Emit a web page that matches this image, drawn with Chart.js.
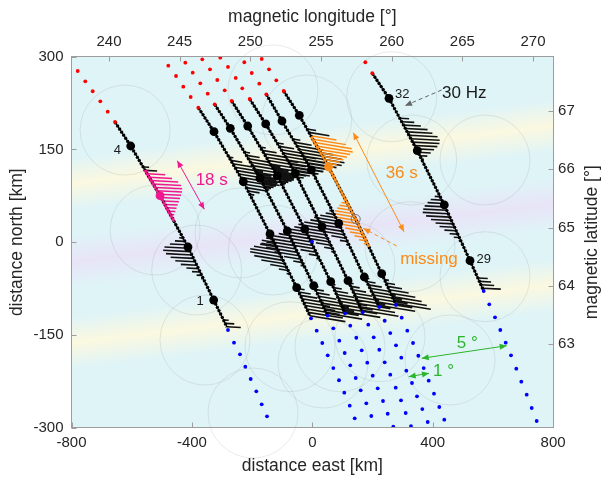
<!DOCTYPE html>
<html><head><meta charset="utf-8">
<script src="https://cdn.jsdelivr.net/npm/chart.js@4.4.0/dist/chart.umd.min.js"></script>
<style>html,body{margin:0;padding:0;background:#fff;}#wrap{width:602px;height:478px;}</style>
</head><body><div id="wrap"><canvas id="c" width="602" height="478"></canvas></div>
<script>
const FONT = "'Liberation Sans', Arial, sans-serif";
const PINK = '#f0188e', ORANGE = '#fb8c19', GREEN = '#2cb52c';

// axis ticks
const xTicks = [-800,-400,0,400,800];
const yTicks = [-300,-150,0,150,300];
const lonTicks = [240,245,250,255,260,265,270];
const latTicks = [63,64,65,66,67];
const lonRange = [237.35,271.42];
const latRange = [61.566,67.93];

// satellite tracks (km east, km north): start, 4 marker dots, end
const trackA = [[-655.5,194.4],[-603.3,155.6],[-506.0,75.2],[-413.0,-7.8],[-327.6,-93.5],[-283.4,-137.1]];
const trackB = [[-378.7,217.5],[-326.6,178.7],[-229.2,97.8],[-140.5,13.3],[-51.8,-73.6],[-7.6,-119.4]];
const trackC = [[-324.3,223.0],[-272.4,184.2],[-173.8,103.3],[-83.1,18.1],[4.7,-70.4],[51.2,-118.9]];
const trackD = [[-267.8,228.4],[-214.6,187.9],[-116.3,107.1],[-25.2,21.3],[61.1,-63.9],[108.6,-115.0]];
const trackE = [[-208.0,231.6],[-154.8,191.2],[-56.5,111.4],[32.2,25.1],[118.6,-62.3],[167.4,-113.4]];
const trackF = [[-152.8,239.2],[-100.7,196.0],[-3.3,116.8],[87.7,30.6],[172.8,-56.3],[222.6,-104.8]];
const trackG = [[-95.0,244.5],[-43.2,205.2],[53.8,121.6],[144.2,37.5],[230.6,-50.9],[278.1,-101.6]];
const trackR = [[199.3,273.2],[254.8,232.7],[348.8,148.0],[438.5,60.2],[523.9,-29.9],[569.4,-78.9]];

// red (no data, north) sample positions
const redA = [[-779.4,276.9],[-754.2,260.2],[-729.6,244.1],[-704.3,227.9],[-679.7,211.1],[-655.5,194.4]];
const redB = [[-478.4,285.5],[-452.8,268.8],[-428.6,251.5],[-404.0,234.8],[-378.7,217.5]];
const redC = [[-421.9,290.3],[-397.3,274.1],[-372.1,257.0],[-347.5,240.2],[-324.3,223.0]];
const redD = [[-365.5,295.8],[-339.9,279.6],[-315.6,262.3],[-291.0,245.7],[-267.8,228.4]];
const redE = [[-305.7,298.5],[-280.1,283.4],[-254.5,265.6],[-232.6,248.9],[-208.0,231.6]];
const redF = [[-225.9,291.0],[-201.3,273.6],[-176.1,256.3],[-152.8,239.2]];
const redG = [[-168.1,296.3],[-143.9,279.6],[-119.6,261.8],[-95.0,244.5]];
const redR = [[176.1,291.0],[199.3,273.2]];

// blue (no data, south) sample positions
const blueA = [[-280.1,-142.0],[-260.1,-162.5],[-240.2,-181.3],[-222.6,-201.4],[-204.7,-221.2],[-186.0,-241.1],[-168.1,-262.2],[-150.5,-281.6]];
const blueB = [[-4.3,-123.1],[14.6,-143.1],[33.2,-163.0],[51.2,-182.9],[69.8,-203.5],[88.7,-223.3],[106.3,-243.4],[124.3,-264.4],[140.9,-284.8]];
const blueC = [[51.2,-118.9],[69.8,-139.3],[89.7,-159.3],[107.6,-179.2],[126.2,-199.1],[144.2,-219.6],[160.8,-239.5],[179.4,-260.5],[196.0,-281.1]];
const blueD = [[108.6,-115.0],[126.2,-135.0],[146.2,-154.5],[164.1,-174.8],[182.7,-194.9],[200.7,-215.9],[217.3,-236.3],[234.9,-256.8],[250.5,-277.4],[269.1,-298.4]];
const blueE = [[167.4,-113.4],[186.0,-133.4],[204.0,-153.8],[222.6,-173.9],[240.5,-194.2],[259.1,-214.3],[277.1,-235.3],[294.7,-255.7],[310.3,-276.2],[327.9,-297.3]];
const blueF = [[222.6,-104.8],[240.5,-127.0],[259.1,-146.9],[278.1,-166.7],[295.7,-186.8],[312.3,-207.8],[331.2,-227.7],[347.8,-249.2],[365.5,-269.8],[383.4,-290.8]];
const blueG = [[278.1,-101.6],[297.0,-122.1],[315.6,-143.1],[334.6,-163.0],[352.2,-183.6],[370.1,-203.5],[386.7,-224.0],[404.3,-245.0],[421.9,-266.5],[438.5,-287.1]];
const blueR = [[569.4,-78.9],[588.0,-100.4],[607.0,-121.5],[624.6,-142.0],[642.5,-162.5],[660.1,-182.9],[677.7,-204.6],[694.4,-225.6],[712.3,-246.6],[728.9,-268.1],[745.5,-289.2]];
const blueO = [[-1.0,1.0]];

// field-of-view circles (centres, km)
const circles = [[-621.9,181.3],[-522.1,19.7],[-384.1,-45.0],[-356.5,-158.2],[-197.0,-276.3],[-240.2,14.9],[-74.1,-169.0],[92.0,-169.0],[-130.6,246.2],[-18.6,197.6],[263.8,235.3],[330.2,132.9],[573.8,132.9],[324.6,-7.3],[573.8,-55.8],[457.5,-190.5],[224.9,-152.8],[35.5,-195.4],[125.3,-39.6],[-129.6,-12.6]];

// wave amplitudes (km) along each track
const ampA1k = [20,40];
const ampA1p = [60,76,90,93,90,83,73,63,53,43,33,23,13,7];
const ampA2 = [-13,-33,-56,-80,-90,-86,-76,-66,-53,-40,-27,-17,-7];
const ampA3 = [17,30,46];
const ampB1 = [15,38,65,94,115,125,122,110,88,62,38,15];
const ampB2 = [-9,-28,-54,-80,-98,-104,-96,-78,-54,-31,-11];
const ampB3 = [12,25,40,56,72,88,100,110,115,118];
const ampC1 = [19,44,72,100,120,130,125,110,85,58,32,12];
const ampC2 = [-10,-31,-60,-88,-108,-115,-105,-82,-56,-31,-12];
const ampC3 = [15,28,42,59,75,90,102,112,118];
const ampD1 = [19,48,78,105,125,132,125,106,80,52,28,10];
const ampD2 = [-10,-30,-56,-82,-102,-110,-100,-79,-52,-30,-11];
const ampD3 = [12,28,44,60,78,92,105,115,120];
const ampE1 = [22,50,81,110,130,135,125,102,75,48,22,8];
const ampE2 = [-10,-30,-56,-81,-100,-106,-98,-75,-50,-28,-10];
const ampE3 = [15,30,46,62,79,94,106,116,122];
const ampF1 = [25,56,88,115,135,138,122,98,69,41,19,6];
const ampF2 = [-10,-28,-52,-78,-95,-102,-94,-72,-48,-25,-10];
const ampF3 = [15,30,45,62,80,95,108,118,122];
const ampG1k = [30,68];
const ampG1o = [85,110,123,120,105,88,70,52,35,18,6];
const ampG2o = [-7,-20,-33,-46,-60,-70,-76,-73,-63,-53,-43,-33,-23,-13,-3];
const ampG3 = [15,30,48,65,82,98,110,118];
const ampR1 = [31,42,58,74,84,95,96,89,76,59,42,25,8];
const ampR2 = [-18,-37,-53,-68,-78,-85,-79,-68,-58,-50,-39,-27,-18,-7];
const ampR3 = [33,39,44,61];

// [track, first sample north (km), colour, amplitudes]
const wiggles = [
 ['A',121.6,'k',ampA1k],['A',110.6,'p',ampA1p],['A',6.8,'k',ampA2],['A',-125.8,'k',ampA3],
 ['B',137.8,'k',ampB1],['B',3.6,'k',ampB2],['B',-69.5,'k',ampB3],
 ['C',145.9,'k',ampC1],['C',16.5,'k',ampC2],['C',-71.0,'k',ampC3],
 ['D',154.0,'k',ampD1],['D',27.8,'k',ampD2],['D',-68.0,'k',ampD3],
 ['E',160.5,'k',ampE1],['E',39.1,'k',ampE2],['E',-66.0,'k',ampE3],
 ['F',166.9,'k',ampF1],['F',50.5,'k',ampF2],['F',-58.0,'k',ampF3],
 ['G',183.1,'k',ampG1k],['G',172.1,'o',ampG1o],['G',68.2,'o',ampG2o],['G',-60.5,'k',ampG3],
 ['R',200.4,'k',ampR1],['R',73.6,'k',ampR2],['R',-57.9,'k',ampR3]
];
const hatchStep = 5.5;
const pinkWindow = [116.5,33.0];
const orangeWindow = [170.6,-7.3];

const tracks = {A:trackA,B:trackB,C:trackC,D:trackD,E:trackE,F:trackF,G:trackG,R:trackR};
const tiltK = {A:0.025,B:0.08,C:0.08,D:0.08,E:0.08,F:0.08,G:0.08,R:0.025};

function trackX(tr,y){
  for(let i=0;i<tr.length-1;i++){
    const a=tr[i],b=tr[i+1];
    if(y<=a[1]&&y>=b[1]){const t=(a[1]-y)/(a[1]-b[1]);return a[0]+t*(b[0]-a[0]);}
  }
  const a = y>tr[0][1]?tr[0]:tr[tr.length-2], b = y>tr[0][1]?tr[1]:tr[tr.length-1];
  const t=(a[1]-y)/(a[1]-b[1]); return a[0]+t*(b[0]-a[0]);
}
function buildHatch(col){
  const pts=[];
  wiggles.forEach(([t,y0,c,amps])=>{
    if(c!==col) return;
    amps.forEach((a,i)=>{
      const y=y0-i*hatchStep, x=trackX(tracks[t],y);
      pts.push({x,y},{x:x+a,y:y-tiltK[t]*a},{x:null,y:null});
    });
  });
  return pts;
}
function slice(tr,yTop,yBot){
  const pts=[{x:trackX(tr,yTop),y:yTop}];
  tr.forEach(p=>{if(p[1]<yTop&&p[1]>yBot)pts.push({x:p[0],y:p[1]});});
  pts.push({x:trackX(tr,yBot),y:yBot});
  return pts;
}
const toXY = arr => arr.map(p=>({x:p[0],y:p[1]}));
const lineDs=(data,color,width,order,dash)=>({type:'scatter',data,showLine:true,pointRadius:0,borderColor:color,borderWidth:width,borderDash:dash||[],fill:false,order,spanGaps:false,tension:0});
const dotDs=(data,color,r,order,border)=>({type:'scatter',data,showLine:false,pointRadius:r,pointBackgroundColor:color,pointBorderColor:border||color,pointBorderWidth:border?1:0,order});

const datasets=[];
datasets.push({type:'bubble',data:circles.map(c=>({x:c[0],y:c[1],r:45})),backgroundColor:'rgba(0,0,0,0)',borderColor:'rgba(90,90,90,0.13)',borderWidth:1,clip:false,order:100});
datasets.push(lineDs(buildHatch('k'),'#111',1.6,60));
datasets.push(lineDs(buildHatch('p'),PINK,1.5,59));
datasets.push(lineDs(buildHatch('o'),ORANGE,1.5,59));
Object.values(tracks).forEach(tr=>{
  const d=toXY(tr);
  datasets.push(lineDs(d,'#000',1.5,50));
  datasets.push(lineDs(d,'#000',3.2,49,[2.2,1.5]));
});
datasets.push(lineDs(slice(trackA,pinkWindow[0],pinkWindow[1]),PINK,1.6,45));
datasets.push(lineDs(slice(trackA,pinkWindow[0],pinkWindow[1]),PINK,3.2,44,[2.2,1.5]));
datasets.push(lineDs(slice(trackG,orangeWindow[0],orangeWindow[1]),ORANGE,1.6,45));
datasets.push(lineDs(slice(trackG,orangeWindow[0],orangeWindow[1]),ORANGE,3.2,44,[2.2,1.5]));
datasets.push(dotDs(toXY([].concat(redA,redB,redC,redD,redE,redF,redG,redR)),'#ff0000',1.9,30));
datasets.push(dotDs(toXY([].concat(blueA,blueB,blueC,blueD,blueE,blueF,blueG,blueR,blueO)),'#0000ff',1.9,30));
const bigBlack=[];
Object.entries(tracks).forEach(([k,tr])=>{[1,2,3,4].forEach(i=>{
  if((k==='A'&&i===2)||(k==='G'&&(i===2||i===3)))return;
  bigBlack.push({x:tr[i][0],y:tr[i][1]});
});});
datasets.push(dotDs(bigBlack,'#000',4.4,20));
datasets.push(dotDs([{x:trackA[2][0],y:trackA[2][1]}],PINK,4.4,19));
datasets.push(dotDs([{x:trackG[2][0],y:trackG[2][1]}],ORANGE,4.4,19));
datasets.push(dotDs([{x:trackG[3][0],y:trackG[3][1]}],'rgba(0,0,0,0)',4.5,19,'#777'));

// annotations (data coordinates, km)
const numLabels = [['4',-647.8,149.1],['1',-373.1,-96.2],['32',299.0,239.2],['29',569.4,-27.2]];
const noteLabels = [['30 Hz',505.0,240.8,'#1a1a1a'],['18 s',-334.2,100.6,PINK],['36 s',297.0,111.4,ORANGE],['missing',387.7,-27.7,ORANGE],['5 °',515.0,-163.5,GREEN],['1 °',436.0,-208.0,GREEN]];
// [x1,y1,x2,y2,colour,both heads,dashed]
const arrows = [
 [-448.5,131.8,-358.8,53.2,PINK,true,false],
 [136.2,177.1,304.7,17.0,ORANGE,true,false],
 [429.9,246.2,308.0,220.8,'#666',false,true],
 [280.4,-6.1,169.4,22.5,ORANGE,false,true],
 [363.5,-187.8,645.9,-167.4,GREEN,true,false],
 [320.3,-217.5,387.7,-212.0,GREEN,true,false]
];

function head(ctx,xf,yf,xt,yt){
  const a=Math.atan2(yt-yf,xt-xf),L=7,W=3;
  ctx.beginPath();ctx.moveTo(xt,yt);
  ctx.lineTo(xt-L*Math.cos(a)+W*Math.sin(a),yt-L*Math.sin(a)-W*Math.cos(a));
  ctx.lineTo(xt-L*Math.cos(a)-W*Math.sin(a),yt-L*Math.sin(a)+W*Math.cos(a));
  ctx.closePath();ctx.fill();
}

const bgPlugin={id:'bg',beforeDraw(chart){
  const {ctx,chartArea:a}=chart;
  ctx.save();ctx.fillStyle='#fff';ctx.fillRect(0,0,chart.width,chart.height);
  const H=a.bottom-a.top,cx=(a.left+a.right)/2,s=0.12;
  const g=ctx.createLinearGradient(cx,a.top,cx+s*H,a.top+H);
  const base='rgb(223,244,247)',yel='rgb(251,248,224)',pur='rgb(232,228,247)';
  const tU=0.261,tP=0.4685,tL=0.684,w=0.07;
  g.addColorStop(0,base);
  g.addColorStop(tU-w,base);g.addColorStop(tU,yel);g.addColorStop(tU+w,base);
  g.addColorStop(tP-w,base);g.addColorStop(tP,pur);g.addColorStop(tP+w,base);
  g.addColorStop(tL-w,base);g.addColorStop(tL,yel);g.addColorStop(tL+w,base);
  g.addColorStop(1,base);
  ctx.fillStyle=g;ctx.fillRect(a.left,a.top,a.right-a.left,H);ctx.restore();
}};

const decor={id:'decor',afterDatasetsDraw(chart){
  const {ctx,chartArea:a,scales}=chart;
  const X=scales.x,Y=scales.y,X2=scales.x2,Y2=scales.y2;
  ctx.save();
  ctx.strokeStyle='#9d9d9d';ctx.lineWidth=1;
  const L=Math.floor(a.left)+0.5,R=Math.floor(a.right)+0.5,T=Math.floor(a.top)+0.5,B=Math.floor(a.bottom)+0.5;
  ctx.strokeRect(L,T,R-L,B-T);
  ctx.beginPath();
  xTicks.forEach(v=>{const p=Math.round(X.getPixelForValue(v))+0.5;ctx.moveTo(p,B);ctx.lineTo(p,B-5);});
  lonTicks.forEach(v=>{const p=Math.round(X2.getPixelForValue(v))+0.5;ctx.moveTo(p,T);ctx.lineTo(p,T+5);});
  yTicks.forEach(v=>{const p=Math.round(Y.getPixelForValue(v))+0.5;ctx.moveTo(L,p);ctx.lineTo(L+5,p);});
  latTicks.forEach(v=>{const p=Math.round(Y2.getPixelForValue(v))+0.5;ctx.moveTo(R,p);ctx.lineTo(R-5,p);});
  ctx.stroke();
  arrows.forEach(([x1,y1,x2,y2,c,both,dash])=>{
    const p1=[X.getPixelForValue(x1),Y.getPixelForValue(y1)],p2=[X.getPixelForValue(x2),Y.getPixelForValue(y2)];
    ctx.strokeStyle=c;ctx.fillStyle=c;ctx.lineWidth=1;ctx.setLineDash(dash?[4,3]:[]);
    ctx.beginPath();ctx.moveTo(p1[0],p1[1]);ctx.lineTo(p2[0],p2[1]);ctx.stroke();ctx.setLineDash([]);
    head(ctx,p1[0],p1[1],p2[0],p2[1]);if(both)head(ctx,p2[0],p2[1],p1[0],p1[1]);
  });
  ctx.textAlign='center';ctx.textBaseline='middle';
  ctx.font='13px '+FONT;ctx.fillStyle='#1a1a1a';
  numLabels.forEach(([t,x,y])=>ctx.fillText(t,X.getPixelForValue(x),Y.getPixelForValue(y)));
  ctx.font='17px '+FONT;
  noteLabels.forEach(([t,x,y,c])=>{ctx.fillStyle=c;ctx.fillText(t,X.getPixelForValue(x),Y.getPixelForValue(y));});
  ctx.translate(592,(a.top+a.bottom)/2);ctx.rotate(-Math.PI/2);
  ctx.font='17.5px '+FONT;ctx.fillStyle='#262626';
  ctx.fillText('magnetic latitude [°]',0,0);
  ctx.restore();
}};

const tickFont={family:FONT,size:15};
const titleFont={family:FONT,size:17.5};
const baseScale={type:'linear',grid:{display:false,drawTicks:false,tickLength:0},border:{display:false},
  ticks:{color:'#262626',font:tickFont,maxRotation:0,autoSkip:false}};

new Chart(document.getElementById('c'),{
  type:'scatter',
  data:{datasets},
  options:{
    responsive:false,animation:false,devicePixelRatio:1,events:[],
    layout:{padding:0},
    plugins:{legend:{display:false},tooltip:{enabled:false}},
    scales:{
      x:{...baseScale,position:'bottom',min:-800,max:800,
        ticks:{...baseScale.ticks,padding:6},
        afterBuildTicks:s=>{s.ticks=xTicks.map(v=>({value:v}));},
        afterFit:s=>{s.height=50.3;},
        title:{display:true,text:'distance east [km]',color:'#262626',font:titleFont,padding:{top:0,bottom:1.5}}},
      y:{...baseScale,position:'left',min:-300,max:300,
        ticks:{...baseScale.ticks,padding:8},
        afterBuildTicks:s=>{s.ticks=yTicks.map(v=>({value:v}));},
        afterFit:s=>{s.width=71.5;},
        title:{display:true,text:'distance north [km]',color:'#262626',font:titleFont,padding:{top:7,bottom:0}}},
      x2:{...baseScale,position:'top',min:lonRange[0],max:lonRange[1],
        ticks:{...baseScale.ticks,padding:6},
        afterBuildTicks:s=>{s.ticks=lonTicks.map(v=>({value:v}));},
        afterFit:s=>{s.height=56.7;},
        title:{display:true,text:'magnetic longitude [°]',color:'#262626',font:titleFont,padding:{top:7,bottom:0}}},
      y2:{...baseScale,position:'right',min:latRange[0],max:latRange[1],
        ticks:{...baseScale.ticks,padding:5},
        afterBuildTicks:s=>{s.ticks=latTicks.map(v=>({value:v}));},
        afterFit:s=>{s.width=48.9;}}
    }
  },
  plugins:[bgPlugin,decor]
});
</script></body></html>
